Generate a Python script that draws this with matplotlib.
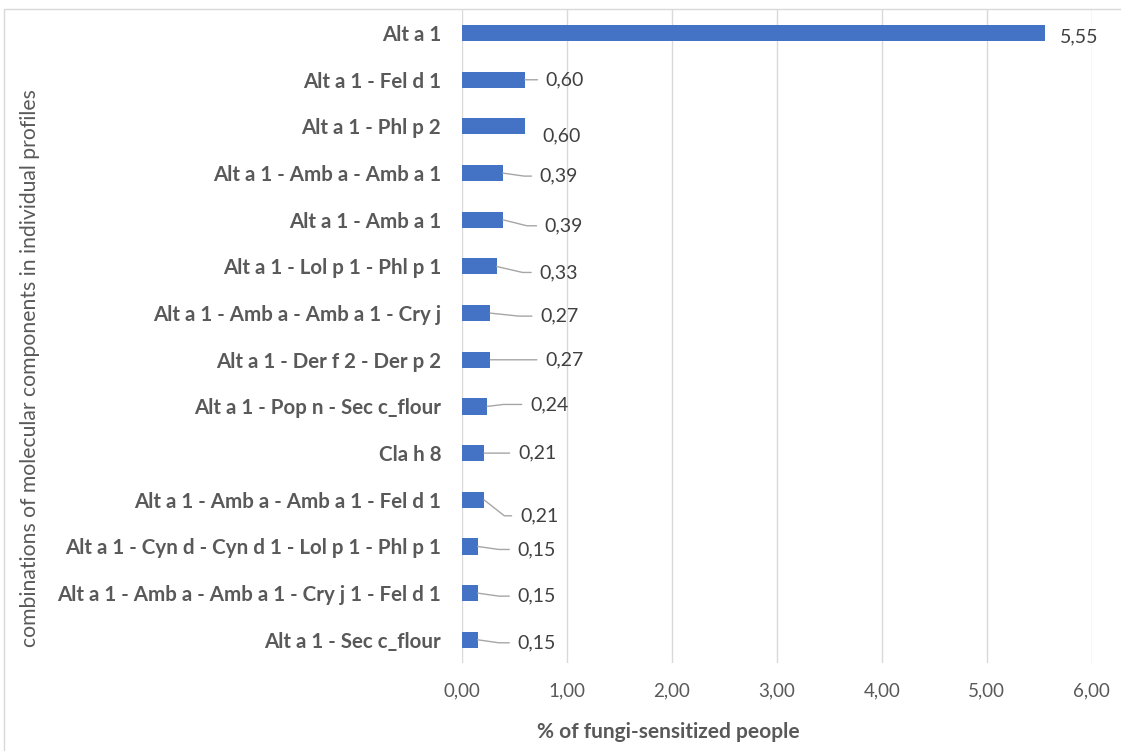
import matplotlib
matplotlib.use("Agg")
import matplotlib.pyplot as plt
from matplotlib.patches import Rectangle

# данные
categories = [
    "Alt a 1",
    "Alt a 1 - Fel d 1",
    "Alt a 1 - Phl p 2",
    "Alt a 1 - Amb a - Amb a 1",
    "Alt a 1 - Amb a 1",
    "Alt a 1 - Lol p 1 - Phl p 1",
    "Alt a 1 - Amb a - Amb a 1 - Cry j",
    "Alt a 1 - Der f 2 - Der p 2",
    "Alt a 1 - Pop n - Sec c_flour",
    "Cla h 8",
    "Alt a 1 - Amb a - Amb a 1 - Fel d 1",
    "Alt a 1 - Cyn d - Cyn d 1 - Lol p 1 - Phl p 1",
    "Alt a 1 - Amb a - Amb a 1 - Cry j 1 - Fel d 1",
    "Alt a 1 - Sec c_flour",
]
values = [5.55, 0.60, 0.60, 0.39, 0.39, 0.33, 0.27, 0.27, 0.24, 0.21, 0.21, 0.15, 0.15, 0.15]
x_ticks = [0, 1, 2, 3, 4, 5, 6]

# смещения подписей (пиксели) и угол выноски (None - прямая, "no" - без линии)
label_offsets = [(15, -4), (21, 0), (18, -9), (37, -3), (42, -6), (43, -6), (50, -3),
                 (55, 0), (43, 2), (34, 0), (36, -16), (40, -3), (40, -3), (40, -3)]
leader_angles = ["no", None, "no", -8, -14, -13, -6, None, 7, None, -38, -8, -8, -8]

GRAY = "#595959"
BLUE = "#4472C4"
plt.rcParams["font.family"] = ["Lato", "DejaVu Sans"]


def fmt(v):
    return f"{v:.2f}".replace(".", ",")


fig = plt.figure(figsize=(11.21, 7.51), dpi=100)
ax = fig.add_axes([0.412, 0.117, 0.562, 0.870])

y = list(range(len(categories)))
ax.barh(y, values, height=0.345, color=BLUE, zorder=3)
ax.set_ylim(len(categories) - 0.5, -0.5)
ax.set_xlim(0, 6)
ax.set_xticks(x_ticks)
ax.set_xticklabels([fmt(t) for t in x_ticks], fontsize=13.5, color=GRAY)
ax.set_yticks(y)
ax.set_yticklabels(categories, fontsize=14.8, color=GRAY, fontweight="bold")
ax.tick_params(axis="both", length=0)
ax.tick_params(axis="x", pad=14)
ax.tick_params(axis="y", pad=15)
ax.grid(axis="x", color="#d9d9d9", linewidth=1, zorder=0)
for s in ax.spines.values():
    s.set_visible(False)

for i, v in enumerate(values):
    dx, dy = label_offsets[i]
    ang = leader_angles[i]
    if ang == "no":
        arrow = None
    elif ang is None:
        arrow = dict(arrowstyle="-", color="#a6a6a6", lw=1, shrinkA=4, shrinkB=0,
                     relpos=(0, 0.5))
    else:
        arrow = dict(arrowstyle="-", color="#a6a6a6", lw=1, shrinkA=4, shrinkB=0,
                     relpos=(0, 0.5), connectionstyle=f"angle,angleA=0,angleB={ang},rad=0")
    ax.annotate(fmt(v), xy=(v, i), xytext=(dx, dy), textcoords="offset pixels",
                ha="left", va="center", fontsize=14, color="#404040",
                arrowprops=arrow, zorder=4)

ax.set_xlabel("% of fungi-sensitized people", fontsize=15, color=GRAY,
              fontweight="bold")
ax.xaxis.set_label_coords(0.327, -0.09)
fig.text(0.027, 0.51, "combinations of molecular components in individual profiles",
         rotation=90, ha="center", va="center", fontsize=15.2, color=GRAY)

# рамка
fig.patches.append(Rectangle((0.004, -0.01), 1.2, 0.998, transform=fig.transFigure,
                             fill=False, edgecolor="#d9d9d9", lw=1))

fig.savefig("out.png", dpi=100)
